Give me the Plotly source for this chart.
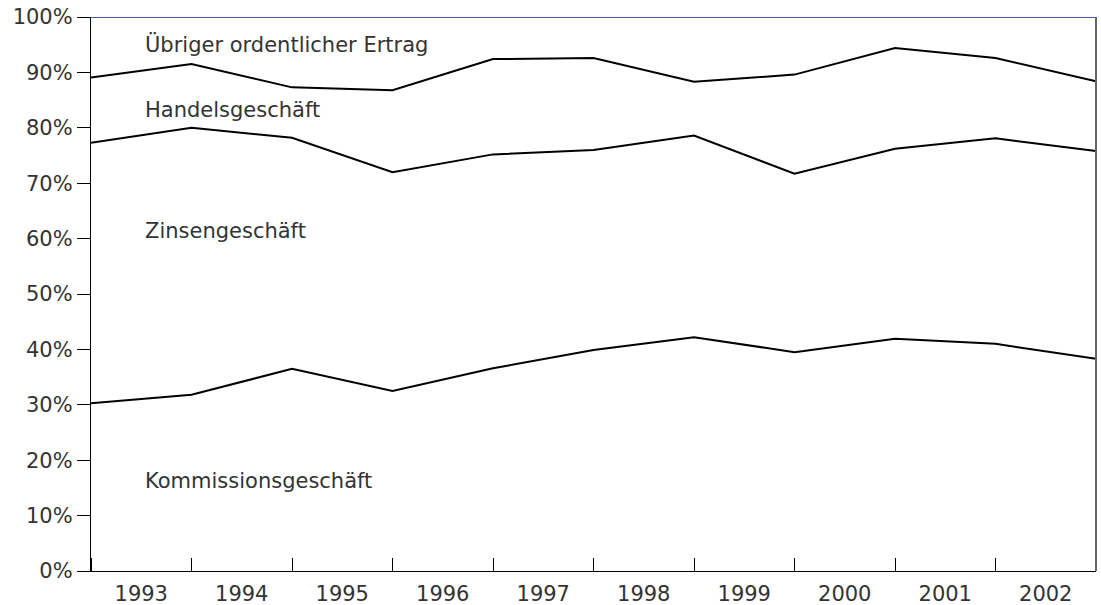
import plotly.graph_objects as go

years = ["1993", "1994", "1995", "1996", "1997", "1998", "1999", "2000", "2001", "2002"]
# values at the 11 year boundaries (cumulative readings converted to shares, in %)
kommission = [30.3, 31.8, 36.5, 32.5, 36.6, 39.9, 42.2, 39.5, 41.9, 41.0, 38.3]
zinsen = [47.0, 48.2, 41.7, 39.5, 38.6, 36.1, 36.4, 32.2, 34.3, 37.1, 37.5]
handel = [11.8, 11.5, 9.1, 14.8, 17.2, 16.6, 9.7, 17.9, 18.2, 14.5, 12.6]
uebriger = [10.9, 8.5, 12.7, 13.2, 7.6, 7.4, 11.7, 10.4, 5.6, 7.4, 11.6]
series_names = ["Kommissionsgeschäft", "Zinsengeschäft", "Handelsgeschäft", "Übriger ordentlicher Ertrag"]
label_y = [16.2, 61.4, 83.2, 95.1]

pos = list(range(len(kommission)))
FONT = "DejaVu Sans"
TXT = "#333333"
FS = 21

fig = go.Figure()
for name, vals, col, w in zip(series_names, [kommission, zinsen, handel, uebriger],
                              ["black", "black", "black", "#0d1f8a"], [2, 2, 2, 1.5]):
    fig.add_trace(go.Scatter(
        x=pos, y=vals, name=name, mode="lines", stackgroup="s",
        line=dict(color=col, width=w), fillcolor="rgba(0,0,0,0)",
        hoverinfo="skip"))

for name, yv in zip(series_names, label_y):
    fig.add_annotation(x=0.52, y=yv, xref="x", yref="y", text=name, showarrow=False,
                       xanchor="left", yanchor="middle",
                       font=dict(family=FONT, size=FS, color=TXT))

fig.add_shape(type="line", xref="paper", yref="paper", x0=1, x1=1, y0=0, y1=1,
              line=dict(color="#666666", width=2))

fig.update_layout(
    width=1101, height=605,
    margin=dict(l=91, r=5, t=17, b=34, autoexpand=False),
    plot_bgcolor="white", paper_bgcolor="white",
    showlegend=False,
    font=dict(family=FONT, size=FS, color=TXT),
    xaxis=dict(
        range=[0, 10], tickmode="array",
        tickvals=[i + 0.5 for i in range(len(years))], ticktext=years,
        ticks="", showgrid=False, zeroline=False, ticklabelstandoff=4,
        showline=True, linecolor="black", linewidth=1.2,
        minor=dict(tickmode="linear", tick0=0, dtick=1, ticks="inside",
                   ticklen=13, tickcolor="black", tickwidth=1, showgrid=False),
        tickfont=dict(family=FONT, size=FS, color=TXT),
    ),
    yaxis=dict(
        range=[0, 100], tickmode="linear", tick0=0, dtick=10, ticksuffix="%",
        ticks="outside", ticklen=13, tickcolor="black", tickwidth=1,
        showgrid=False, zeroline=False,
        showline=True, linecolor="black", linewidth=1.2,
        tickfont=dict(family=FONT, size=FS, color=TXT),
    ),
)

fig.write_html("out.html", config={"displayModeBar": False},
               post_script="document.body.style.margin='0';")
